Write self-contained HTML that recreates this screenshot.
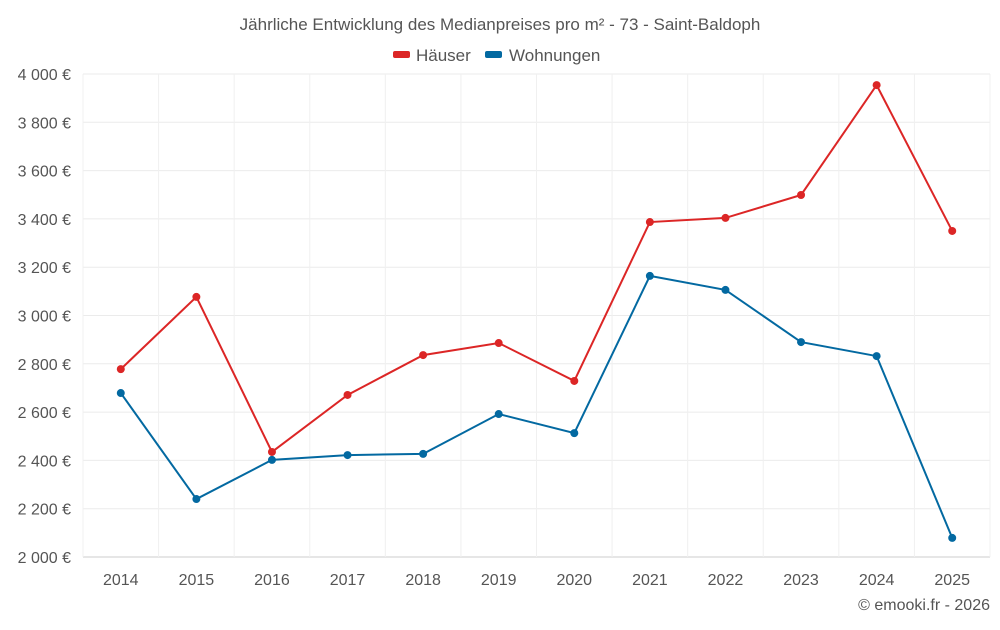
<!DOCTYPE html>
<html><head><meta charset="utf-8"><style>
body{margin:0;background:#fff;font-family:"Liberation Sans",sans-serif}
svg text{font-family:"Liberation Sans",sans-serif}
</style></head><body>
<svg id="c" width="1000" height="625">
<text x="500" y="30" text-anchor="middle" font-size="17" fill="#555">Jährliche Entwicklung des Medianpreises pro m² - 73 - Saint-Baldoph</text>
<g>
<g><rect x="393" y="51" width="17" height="7" rx="2" fill="#dc2626"/><text x="416" y="61" font-size="17" fill="#555">Häuser</text></g>
<g><rect x="485" y="51" width="17" height="7" rx="2" fill="#0369a1"/><text x="509" y="61" font-size="17" fill="#555">Wohnungen</text></g>
</g>
<g id="grid"></g><g id="axes"></g><g id="series"></g>
<text x="990" y="610" text-anchor="end" font-size="16" fill="#555">© emooki.fr - 2026</text>
</svg>
<script>
const years=["2014","2015","2016","2017","2018","2019","2020","2021","2022","2023","2024","2025"];
const houses=[2778,3077,2435,2671,2836,2886,2729,3387,3404,3499,3954,3350];
const flats=[2679,2240,2402,2422,2427,2592,2513,3164,3106,2890,2832,2079];
const yTicks=[2000,2200,2400,2600,2800,3000,3200,3400,3600,3800,4000];
const NS="http://www.w3.org/2000/svg";
const L=83,R=990,T=74,B=557,yMin=2000,yMax=4000;
const step=(R-L)/years.length;
const x=i=>L+step*(i+0.5);
const y=v=>B-(v-yMin)/(yMax-yMin)*(B-T);
function el(t,a,p){const e=document.createElementNS(NS,t);for(const k in a)e.setAttribute(k,a[k]);p.appendChild(e);return e;}
const g=document.getElementById('grid'),ax=document.getElementById('axes'),s=document.getElementById('series');
yTicks.forEach(v=>{
 const ln=el('line',{x1:L,x2:R,y1:y(v),y2:y(v),stroke:v===yMin?'#ccc':'#ebebeb'},g);
 
 
 const t=el('text',{x:L-12,y:y(v)+6,'text-anchor':'end','font-size':16,fill:'#555'},ax);
 t.textContent=v.toLocaleString('fr-FR').replace(/\u202f|\u00a0/g,' ')+' €';
 
 
});
for(let i=0;i<=years.length;i++){
 const ln=el('line',{x1:L+step*i,x2:L+step*i,y1:T,y2:B+(i?0:0),stroke:'#f0f0f0'},g);
 
 
}
years.forEach((yr,i)=>{
 const t=el('text',{x:x(i),y:585,'text-anchor':'middle','font-size':16,fill:'#555'},ax);
 t.textContent=yr;
 
 
});
function draw(data,color,name){
 const p=el('polyline',{points:data.map((v,i)=>x(i)+','+y(v)).join(' '),fill:'none',stroke:color,'stroke-width':2},s);
 
 
 data.forEach((v,i)=>{
  const c=el('circle',{cx:x(i),cy:y(v),r:4,fill:color},s);
  
  
 });
}
draw(houses,'#dc2626','haeuser');
draw(flats,'#0369a1','wohnungen');
</script>
</body></html>
